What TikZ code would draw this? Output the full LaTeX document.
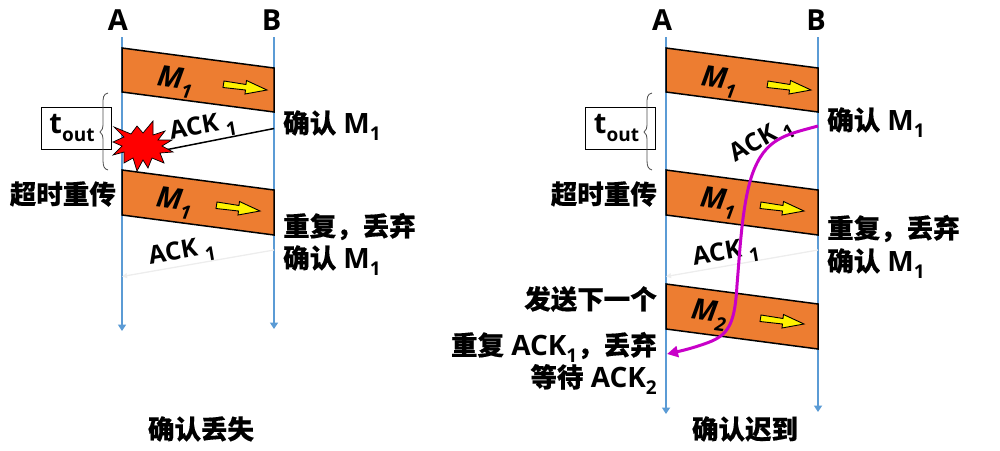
\documentclass[tikz,border=0pt]{standalone}
\usepackage{fontspec}
\setmainfont{Open Sans}
\newfontfamily\cjk{Noto Sans CJK SC}[BoldFeatures={FakeBold=0.4}]
\usetikzlibrary{arrows.meta}
\definecolor{msgorange}{HTML}{ED7D31}
\definecolor{lifeblue}{HTML}{5B9BD5}
\definecolor{latemag}{HTML}{C800C8}
\newcommand{\lowsub}[1]{\raisebox{-0.28em}{\fontsize{19}{19}\selectfont\bfseries #1}}
\newcommand{\cn}[1]{{\cjk\fontsize{26.5}{26.5}\selectfont\bfseries #1}}
\tikzset{
  lifeline/.style={draw=lifeblue,line width=2pt,-{Triangle[length=6.5pt,width=8pt]}},
  msgbox/.style={draw=black,line width=1.5pt,fill=msgorange,line join=miter},
  lostack/.style={draw=black,line width=1.5pt},
  ghostack/.style={draw=black!7,line width=1.3pt,-{Triangle[length=5pt,width=5pt]}},
  lateack/.style={draw=latemag,line width=3pt,-{Triangle[length=11pt,width=11pt]}},
  yarrow/.style={draw=black,line width=0.9pt,fill=yellow,line join=miter},
  lbl/.style={inner sep=0pt,font=\fontsize{28}{28}\selectfont\bfseries,text=black},
  endl/.style={inner sep=0pt,font=\fontsize{29}{29}\selectfont\bfseries},
  msgl/.style={inner sep=0pt,font=\fontsize{29}{29}\selectfont\bfseries\itshape,rotate=-8},
  ackl/.style={inner sep=0pt,font=\fontsize{25}{25}\selectfont\bfseries},
  toutbox/.style={draw=black,line width=0.8pt,minimum width=70pt,minimum height=42pt,inner sep=0pt,font=\fontsize{29}{29}\selectfont\bfseries},
  bracel/.style={draw=black!70,line width=0.8pt},
  star/.style={draw=black,line width=0.7pt,fill=red,line join=miter}
}
\newcommand{\yarrowat}[2]{\path[yarrow] (#1+224,#2+81) -- (#1+246,#2+84.5) -- (#1+246.5,#2+80.5) -- (#1+267,#2+90) -- (#1+245,#2+94) -- (#1+245.5,#2+90) -- (#1+223,#2+87.5) -- cycle;}
\begin{document}
\begin{tikzpicture}[x=1pt,y=-1pt]
\useasboundingbox (0,0) rectangle (1000,450);
% left panel
\node[endl] (la) at (118,20) {A};
\node[endl] (lb) at (271.5,20) {B};
\coordinate (lat) at (122,37); \coordinate (lae) at (122,331);
\coordinate (lbt) at (274,37); \coordinate (lbe) at (274,329);
\draw[lifeline] (lat) -- (lae);
\draw[lifeline] (lbt) -- (lbe);
\path[msgbox] (122,48) -- (274,68) -- (274,112) -- (122,92) -- cycle;
\path[msgbox] (122,170) -- (274,190) -- (274,235) -- (122,215) -- cycle;
\yarrowat{0}{0}
\yarrowat{-7}{121}
\node[msgl] (lm1) at (175,82) {M\lowsub{1}};
\node[msgl] (lm2) at (174,203) {M\lowsub{1}};
\coordinate (lack1s) at (274,128.5); \coordinate (lack1e) at (165,150);
\draw[lostack] (lack1s) -- (lack1e);
\coordinate (lack2s) at (274,250); \coordinate (lack2e) at (122,276.5);
\draw[ghostack] (lack2s) -- (lack2e);
\node[ackl,rotate=10] (lal1) at (203,128) {ACK \lowsub{1}};
\node[ackl,rotate=10] (lal2) at (182,253) {ACK \lowsub{1}};
\node[toutbox] (lt) at (76,128) {\hspace*{-8pt}t\lowsub{out}};
\draw[bracel] (108,93) .. controls (103,94) and (103,98) .. (103,104) -- (103,124) .. controls (103,128) and (102,131) .. (100,132) .. controls (102,133) and (103,136) .. (103,140) -- (103,160) .. controls (103,166) and (104,169) .. (108,170);
\path[star] (114,127) -- (131,134) -- (137,126) -- (143,133) -- (153,121) -- (153,135) -- (165,131) -- (158,140) -- (172,140) -- (162,146) -- (173,152) -- (160,153) -- (164,163) -- (152,158) -- (148,168) -- (143,160) -- (137,171) -- (133,158) -- (124,163) -- (124,152) -- (113,155) -- (122,146) -- (113,142) -- (124,137) -- cycle;
\node[lbl,anchor=base west] (lc1) at (283,133) {\cn{确认} M\lowsub{1}};
\node[lbl,anchor=base west] (lc2) at (283,236) {\cn{重复，丢弃}};
\node[lbl,anchor=base west] (lc3) at (283,268) {\cn{确认} M\lowsub{1}};
\node[lbl,anchor=base east] (lc4) at (116,204) {\cn{超时重传}};
\node[lbl,anchor=base] (lcap) at (201,439) {\cn{确认丢失}};
% right panel
\node[endl] (ra) at (662,20) {A};
\node[endl] (rb) at (816,20) {B};
\coordinate (rat) at (666,37); \coordinate (rae) at (666,414);
\coordinate (rbt) at (818,37); \coordinate (rbe) at (818,412);
\draw[lifeline] (rat) -- (rae);
\draw[lifeline] (rbt) -- (rbe);
\path[msgbox] (666,48) -- (818,68) -- (818,112) -- (666,92) -- cycle;
\path[msgbox] (666,170) -- (818,190) -- (818,235) -- (666,215) -- cycle;
\path[msgbox] (666,284) -- (818,304) -- (818,349) -- (666,329) -- cycle;
\yarrowat{544}{0}
\yarrowat{537}{121}
\yarrowat{537}{234}
\node[msgl] (rm1) at (719,82) {M\lowsub{1}};
\node[msgl] (rm2) at (718,203) {M\lowsub{1}};
\node[msgl] (rm3) at (709,315) {M\lowsub{2}};
\coordinate (rack2s) at (818,250); \coordinate (rack2e) at (666,276.5);
\draw[ghostack] (rack2s) -- (rack2e);
\node[ackl,rotate=30] (ral1) at (762,141) {ACK \lowsub{1}};
\node[ackl,rotate=10] (ral2) at (726,254) {ACK \lowsub{1}};
\coordinate (rlates) at (818,126); \coordinate (ratee) at (667,354);
\draw[lateack] (rlates) .. controls (785,135) and (765,138) .. (752,175) .. controls (742,205) and (740,250) .. (737,285) .. controls (735,320) and (730,333) .. (712,341) .. controls (700,346) and (685,350) .. (ratee);
\node[toutbox] (rt) at (620.5,128) {\hspace*{-8pt}t\lowsub{out}};
\draw[bracel] (652,93) .. controls (647,94) and (647,98) .. (647,104) -- (647,124) .. controls (647,128) and (646,131) .. (644,132) .. controls (646,133) and (647,136) .. (647,140) -- (647,160) .. controls (647,166) and (648,169) .. (652,170);
\node[lbl,anchor=base west] (rc1) at (827,130) {\cn{确认} M\lowsub{1}};
\node[lbl,anchor=base west] (rc2) at (827,238) {\cn{重复，丢弃}};
\node[lbl,anchor=base west] (rc3) at (827,271) {\cn{确认} M\lowsub{1}};
\node[lbl,anchor=base east] (rc4) at (657,204) {\cn{超时重传}};
\node[lbl,anchor=base east] (rc5) at (657,309) {\cn{发送下一个}};
\node[lbl,anchor=base east] (rc6) at (657,355) {\cn{重复} ACK\lowsub{1}\cn{，丢弃}};
\node[lbl,anchor=base east] (rc7) at (657,387) {\cn{等待} ACK\lowsub{2}};
\node[lbl,anchor=base] (rcap) at (745,439) {\cn{确认迟到}};
\end{tikzpicture}
\end{document}
